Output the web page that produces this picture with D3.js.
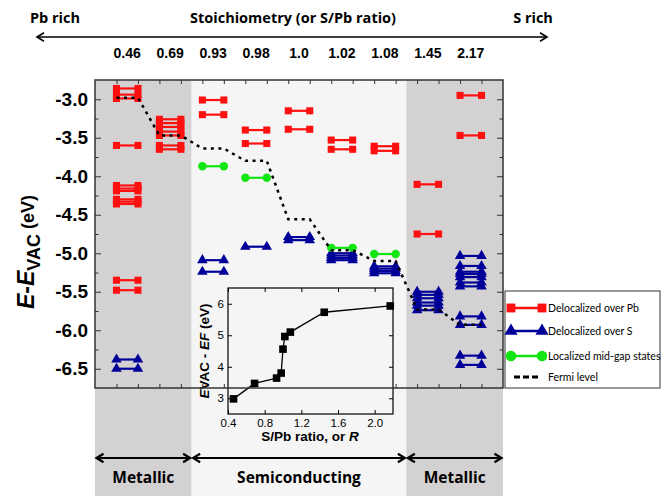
<!DOCTYPE html>
<html>
<head>
<meta charset="utf-8">
<script src="https://cdn.jsdelivr.net/npm/d3@7/dist/d3.min.js"></script>
<style>
  body { margin: 0; background: #fff; }
  text { fill: #000; }
</style>
</head>
<body>
<svg width="665" height="496"></svg>
<script>
// S/Pb ratio of each column
const ratios = ["0.46", "0.69", "0.93", "0.98", "1.0", "1.02", "1.08", "1.45", "2.17"];

// levels delocalized over Pb (eV), one list per column
const pbLevels = [
  [-2.86, -2.94, -2.99, -3.60, -4.12, -4.16, -4.19, -4.30, -4.33, -4.36, -5.35, -5.48],
  [-3.26, -3.31, -3.36, -3.42, -3.47, -3.60, -3.65],
  [-3.01, -3.20],
  [-3.40, -3.575],
  [-3.15, -3.39],
  [-3.53, -3.65],
  [-3.61, -3.67],
  [-4.105, -4.75],
  [-2.95, -3.47]
];

// levels delocalized over S
const sLevels = [
  [-6.38, -6.50],
  [],
  [-5.09, -5.24],
  [-4.915],
  [-4.79, -4.83],
  [-5.00, -5.03, -5.06, -5.09],
  [-5.17, -5.20, -5.23, -5.26],
  [-5.50, -5.54, -5.585, -5.64, -5.68, -5.74],
  [-5.035, -5.165, -5.24, -5.27, -5.31, -5.38, -5.43, -5.82, -5.93, -6.33, -6.45]
];

// localized mid-gap states
const gapLevels = [[], [], [-3.87], [-4.02], [], [-4.93], [-5.01], [], []];

// EVAC - EF (eV), also used for the Fermi level
const fermi = [2.98, 3.47, 3.64, 3.80, 4.56, 4.96, 5.10, 5.73, 5.93];

const regimes = [
  { from: 0.25, to: 2.5, label: "Metallic", fill: "#d3d1d2" },
  { from: 2.5, to: 7.5, label: "Semiconducting", fill: "#f5f5f5" },
  { from: 7.5, to: 9.75, label: "Metallic", fill: "#d3d1d2" }
];

const legendItems = ["Delocalized over Pb", "Delocalized over S", "Localized mid-gap states", "Fermi level"];

const svg = d3.select("svg");
const humanist = "'Open Sans', 'DejaVu Sans', sans-serif";
const arial = "'Liberation Sans', Arial, sans-serif";

const x = d3.scaleLinear().domain([0.25, 9.75]).range([95, 503]);
const y = d3.scaleLinear().domain([-6.75, -2.75]).range([388, 80]);

// background bands
svg.selectAll("rect.band")
  .data(regimes)
  .enter().append("rect")
    .attr("x", d => x(d.from))
    .attr("y", 80)
    .attr("width", d => x(d.to) - x(d.from))
    .attr("height", 416)
    .attr("fill", d => d.fill);

// axes (ticks inward)
const majors = d3.range(-3, -6.51, -0.5);
const minors = d3.range(-3.25, -6.6, -0.5);
const colTicks = d3.range(1, 10).flatMap(c => [c - 0.25, c + 0.25]);

const yl = svg.append("g").attr("transform", "translate(95,0)")
  .call(d3.axisLeft(y).tickValues(majors).tickSizeInner(-6).tickSizeOuter(0)
    .tickPadding(7).tickFormat(d => d.toFixed(1)));
yl.selectAll("text").attr("font-family", arial).attr("font-weight", "bold").attr("font-size", 19);
svg.append("g").attr("transform", "translate(95,0)")
  .call(d3.axisLeft(y).tickValues(minors).tickSize(-3.5).tickFormat(""));
svg.append("g").attr("transform", "translate(503,0)")
  .call(d3.axisRight(y).tickValues(majors).tickSize(-6).tickFormat(""));
svg.append("g").attr("transform", "translate(503,0)")
  .call(d3.axisRight(y).tickValues(minors).tickSize(-3.5).tickFormat(""));
svg.append("g").attr("transform", "translate(0,80)")
  .call(d3.axisTop(x).tickValues(colTicks).tickSize(-4).tickFormat(""));
svg.append("g").attr("transform", "translate(0,388)")
  .call(d3.axisBottom(x).tickValues(colTicks).tickSize(-4).tickFormat(""));
svg.selectAll(".domain").remove();
svg.selectAll(".tick line").attr("stroke", "#333");

// level plotting helpers
const sq = d3.symbol().type(d3.symbolSquare).size(50);
const tri = d3.symbol().type(d3.symbolTriangle).size(48);
const circ = d3.symbol().type(d3.symbolCircle).size(56);

function drawLevels(levels, color, sym, width) {
  const rows = levels.flatMap((vals, i) => vals.map(v => ({ c: i + 1, v })));
  const g = svg.append("g");
  g.selectAll("line")
    .data(rows)
    .enter().append("line")
      .attr("x1", d => x(d.c - 0.25))
      .attr("x2", d => x(d.c + 0.25))
      .attr("y1", d => y(d.v))
      .attr("y2", d => y(d.v))
      .attr("stroke", color)
      .attr("stroke-width", width);
  g.selectAll("path")
    .data(rows.flatMap(d => [{ c: d.c - 0.25, v: d.v }, { c: d.c + 0.25, v: d.v }]))
    .enter().append("path")
      .attr("d", sym)
      .attr("transform", d => `translate(${x(d.c)},${y(d.v)})`)
      .attr("fill", color);
}

drawLevels(pbLevels, "#ff1010", sq, 2.2);
drawLevels(sLevels, "#000099", tri, 2.2);
drawLevels(gapLevels, "#11e611", circ, 2.2);

// Fermi level
const fermiPts = fermi.flatMap((f, i) => [[i + 0.75, -f], [i + 1.25, -f]]);
svg.append("path")
  .attr("d", d3.line().x(d => x(d[0])).y(d => y(d[1]))(fermiPts))
  .attr("fill", "none")
  .attr("stroke", "#000")
  .attr("stroke-width", 2.5)
  .attr("stroke-dasharray", "3,4.5");

// inset
const ix = d3.scaleLinear().domain([0.4, 2.2]).range([228, 393]);
const iy = d3.scaleLinear().domain([2.5, 6.5]).range([414, 288]);
const inset = svg.append("g");
inset.append("rect")
  .attr("x", 228).attr("y", 288).attr("width", 165).attr("height", 126)
  .attr("fill", "#f5f5f5").attr("stroke", "#000").attr("stroke-width", 1.2);
inset.append("g").attr("transform", "translate(0,414)")
  .call(d3.axisBottom(ix).tickValues([0.4, 0.8, 1.2, 1.6, 2.0]).tickSizeInner(-4).tickSizeOuter(0)
    .tickPadding(5).tickFormat(d3.format(".1f")));
inset.append("g").attr("transform", "translate(228,0)")
  .call(d3.axisLeft(iy).tickValues([3, 4, 5, 6]).tickSizeInner(-4).tickSizeOuter(0)
    .tickPadding(4).tickFormat(d3.format("d")));
inset.append("g").attr("transform", "translate(393,0)")
  .call(d3.axisRight(iy).tickValues([3, 4, 5, 6]).tickSize(-4).tickFormat(""));
inset.append("g").attr("transform", "translate(0,288)")
  .call(d3.axisTop(ix).tickValues([0.4, 0.8, 1.2, 1.6, 2.0]).tickSize(-4).tickFormat(""));
inset.selectAll(".domain").remove();
inset.selectAll(".tick line").attr("stroke", "#000");
inset.selectAll(".tick text").attr("font-family", arial).attr("font-size", 11.5).attr("fill", "#333");

const ratioNums = ratios.map(Number);
inset.append("path")
  .attr("d", d3.line().x((d, i) => ix(ratioNums[i])).y(d => iy(d))(fermi))
  .attr("fill", "none").attr("stroke", "#000").attr("stroke-width", 1.3);
inset.selectAll("rect.pt")
  .data(fermi)
  .enter().append("rect")
    .attr("x", (d, i) => ix(ratioNums[i]) - 3.8)
    .attr("y", d => iy(d) - 3.8)
    .attr("width", 7.6).attr("height", 7.6)
    .attr("fill", "#000");

const ixl = inset.append("text")
  .attr("x", 310).attr("y", 441)
  .attr("text-anchor", "middle")
  .attr("font-family", arial).attr("font-weight", "bold").attr("font-size", 13.5);
ixl.append("tspan").text("S/Pb ratio, or ");
ixl.append("tspan").attr("font-style", "italic").text("R");

const iyl = inset.append("text")
  .attr("transform", "translate(209,351) rotate(-90)")
  .attr("text-anchor", "middle")
  .attr("font-family", arial).attr("font-weight", "bold").attr("font-size", 13.5);
iyl.append("tspan").attr("font-style", "italic").text("E");
iyl.append("tspan").text("VAC - ");
iyl.append("tspan").attr("font-style", "italic").text("EF");
iyl.append("tspan").text(" (eV)");

// main frame
svg.append("rect")
  .attr("x", 95).attr("y", 80).attr("width", 408).attr("height", 308)
  .attr("fill", "none").attr("stroke", "#333").attr("stroke-width", 1.5);

// y axis title
const yt = svg.append("text")
  .attr("transform", "translate(34,252) rotate(-90)")
  .attr("text-anchor", "middle")
  .attr("font-family", arial).attr("font-weight", "bold").attr("font-size", 23);
yt.append("tspan").attr("font-style", "italic").text("E");
yt.append("tspan").text("-");
yt.append("tspan").attr("font-style", "italic").text("E");
yt.append("tspan").attr("font-size", 18).attr("dy", 6).text("VAC");
yt.append("tspan").attr("font-size", 18).attr("dy", -6).text(" (eV)");

// header
function arrow(x1, x2, yy, w, head) {
  const g = svg.append("g").attr("stroke", "#000").attr("stroke-width", w).attr("fill", "none");
  g.append("line").attr("x1", x1).attr("x2", x2).attr("y1", yy).attr("y2", yy);
  g.append("path").attr("d", `M${x1 + head},${yy - head * 0.6}L${x1},${yy}L${x1 + head},${yy + head * 0.6}`);
  g.append("path").attr("d", `M${x2 - head},${yy - head * 0.6}L${x2},${yy}L${x2 - head},${yy + head * 0.6}`);
}
arrow(37, 547, 37, 1.6, 7);

const headFont = { family: humanist, weight: 700, size: 14.5 };
[["Pb rich", 55], ["Stoichiometry (or S/Pb ratio)", 293], ["S rich", 533]].forEach(([t, px]) => {
  svg.append("text").attr("x", px).attr("y", 23).attr("text-anchor", "middle")
    .attr("font-family", headFont.family).attr("font-weight", headFont.weight)
    .attr("font-size", headFont.size).text(t);
});

svg.selectAll("text.ratio")
  .data(ratios)
  .enter().append("text")
    .attr("x", (d, i) => x(i + 1))
    .attr("y", 58)
    .attr("text-anchor", "middle")
    .attr("font-family", arial).attr("font-weight", "bold").attr("font-size", 14)
    .text(d => d);

// regime arrows and labels
regimes.forEach(r => arrow(x(r.from) + 1.5, x(r.to) - 1.5, 458, 2.2, 7));
svg.selectAll("text.regime")
  .data(regimes)
  .enter().append("text")
    .attr("x", d => (x(d.from) + x(d.to)) / 2)
    .attr("y", 483)
    .attr("text-anchor", "middle")
    .attr("font-family", humanist).attr("font-weight", 700).attr("font-size", 15.5)
    .text(d => d.label);

// legend
const lg = svg.append("g");
lg.append("rect")
  .attr("x", 505).attr("y", 291).attr("width", 155).attr("height", 97)
  .attr("fill", "#fff").attr("stroke", "#333").attr("stroke-width", 1);
const legY = [308, 331, 356, 377];
const legSpec = [
  { color: "#ff1010", sym: sq },
  { color: "#000099", sym: tri },
  { color: "#11e611", sym: circ }
];
legSpec.forEach((s, i) => {
  lg.append("line").attr("x1", 511).attr("x2", 542).attr("y1", legY[i]).attr("y2", legY[i])
    .attr("stroke", s.color).attr("stroke-width", 2.5);
  [511, 542].forEach(px => lg.append("path").attr("d", s.sym).attr("fill", s.color)
    .attr("transform", `translate(${px},${legY[i]}) scale(1.25)`));
});
lg.append("line").attr("x1", 514).attr("x2", 540).attr("y1", legY[3]).attr("y2", legY[3])
  .attr("stroke", "#000").attr("stroke-width", 3).attr("stroke-dasharray", "6,3");
lg.selectAll("text")
  .data(legendItems)
  .enter().append("text")
    .attr("x", 548)
    .attr("y", (d, i) => legY[i] + 4)
    .attr("font-family", "Lato, 'DejaVu Sans', sans-serif").attr("font-size", 10.5)
    .text(d => d);
</script>
</body>
</html>
